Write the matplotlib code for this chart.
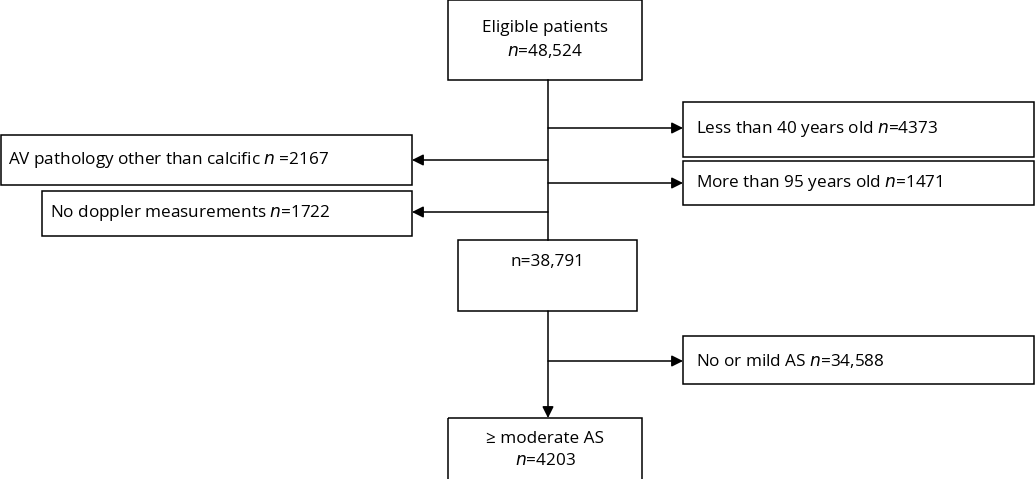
import matplotlib
matplotlib.use("Agg")
import matplotlib.pyplot as plt
from matplotlib.patches import Rectangle

plt.rcParams['font.family'] = ['Open Sans', 'DejaVu Sans']

# boxes: (x0, y0, x1, y1) in pixel coords, text
box_labels = [
    "Eligible patients\n$\\it{n}$=48,524",
    "Less than 40 years old $\\it{n}$=4373",
    "AV pathology other than calcific $\\it{n}$ =2167",
    "More than 95 years old $\\it{n}$=1471",
    "No doppler measurements $\\it{n}$=1722",
    "n=38,791",
    "No or mild AS $\\it{n}$=34,588",
    "≥ moderate AS\n$\\it{n}$=4203",
]
box_rects = [
    (448, 0, 642, 80),
    (683, 102, 1034, 157),
    (1, 135, 412, 185),
    (683, 161, 1034, 205),
    (42, 191, 412, 236),
    (458, 240, 637, 311),
    (683, 336, 1034, 384),
    (448, 418, 642, 482),
]
text_pos = [
    (545, 40, 'center'),
    (696, 129, 'left'),
    (8, 160, 'left'),
    (696, 183, 'left'),
    (50, 213, 'left'),
    (547, 262, 'center'),
    (696, 361, 'left'),
    (545, 450, 'center'),
]

fig = plt.figure(figsize=(10.35, 4.79), dpi=100)
ax = fig.add_axes([0, 0, 1, 1])
ax.set_xlim(0, 1035)
ax.set_ylim(479, 0)
ax.axis('off')

for (x0, y0, x1, y1), lab, (tx, ty, ha) in zip(box_rects, box_labels, text_pos):
    ax.add_patch(Rectangle((x0, y0), x1 - x0, y1 - y0, fill=False, edgecolor='black', lw=1.1))
    ax.text(tx, ty, lab, ha=ha, va='center', fontsize=12.3, linespacing=1.45)

# main trunk
ax.plot([548, 548], [80, 240], color='black', lw=1.1)
ax.annotate('', xy=(548, 418), xytext=(548, 311),
            arrowprops=dict(arrowstyle='-|>', color='black', lw=1.1, mutation_scale=17,
                            shrinkA=0, shrinkB=0))

# side arrows: (y, target x)
arrow_y = [128, 160, 183, 212, 361]
arrow_x = [683, 412, 683, 412, 683]
for y, x in zip(arrow_y, arrow_x):
    ax.annotate('', xy=(x, y), xytext=(548, y),
                arrowprops=dict(arrowstyle='-|>', color='black', lw=1.1, mutation_scale=17,
                                shrinkA=0, shrinkB=0))

fig.savefig('out.png', dpi=100)
